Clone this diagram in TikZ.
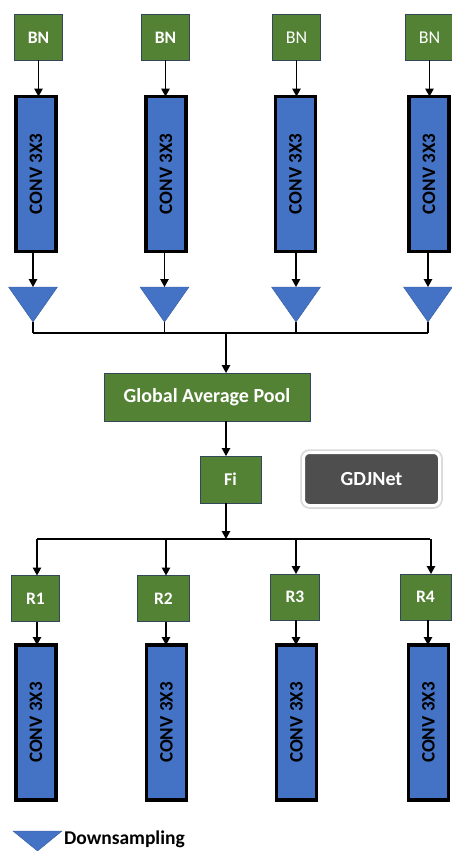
\documentclass[tikz,border=0pt]{standalone}
\usepackage{fontspec}
\setmainfont{Carlito}
\usetikzlibrary{arrows.meta}
\definecolor{gbox}{HTML}{548235}
\definecolor{bbox}{HTML}{4472C4}
\definecolor{gline}{HTML}{33465A}
\definecolor{dgray}{HTML}{4E4E4E}
\begin{document}
\begin{tikzpicture}[x=1pt,y=-1pt,
 every node/.style={inner sep=0pt, outer sep=0pt},
 gnode/.style={draw=gline, line width=0.8pt, fill=gbox, text=white, font=\fontsize{17.5}{17.5}\selectfont\bfseries, minimum height=46pt, minimum width=48pt},
 gnodelight/.style={gnode, font=\fontsize{18}{18}\selectfont},
 convbox/.style={draw=black, line width=3.5pt, fill=bbox, minimum width=40pt, minimum height=155pt},
 convlabel/.style={rotate=90, font=\fontsize{19}{19}\selectfont\bfseries},
 arr/.style={-{Triangle[length=8pt,width=8.5pt]}, line width=1.3pt},
 ln/.style={line width=1.3pt},
 tri/.style={fill=bbox, draw=bbox!80!black, line width=0.4pt}]
\useasboundingbox (0,0) rectangle (451,851);
% ---------- top row ----------
\node[gnode] (bn1) at (38.5,37.5) {BN};
\node[gnode] (bn2) at (165.5,37.5) {BN};
\node[gnodelight] (bn3) at (296.5,37.5) {BN};
\node[gnodelight] (bn4) at (429.5,37.5) {BN};
\node[convbox] (c1) at (36,174) {};
\node[convbox] (c2) at (166,174) {};
\node[convbox] (c3) at (295.5,174) {};
\node[convbox] (c4) at (429,174) {};
\node[convlabel] (cl1) at (c1) {CONV 3X3};
\node[convlabel] (cl2) at (c2) {CONV 3X3};
\node[convlabel] (cl3) at (c3) {CONV 3X3};
\node[convlabel] (cl4) at (c4) {CONV 3X3};
\draw[arr] (bn1.south) -- (bn1.south |- c1.north);
\draw[arr] (bn2.south) -- (bn2.south |- c2.north);
\draw[arr] (bn3.south) -- (bn3.south |- c3.north);
\draw[arr] (bn4.south) -- (bn4.south |- c4.north);
% triangles
\path[tri] (8.5,287) -- (57.5,287) -- (33,322) -- cycle;
\path[tri] (140,287) -- (189,287) -- (164.5,322) -- cycle;
\path[tri] (271.5,287) -- (320.5,287) -- (296,322) -- cycle;
\path[tri] (403.5,287) -- (452.5,287) -- (428,322) -- cycle;
\coordinate (t1) at (33,287);   \coordinate (a1) at (33,322);
\coordinate (t2) at (164.5,287);\coordinate (a2) at (164.5,322);
\coordinate (t3) at (296,287);  \coordinate (a3) at (296,322);
\coordinate (t4) at (428,287);  \coordinate (a4) at (428,322);
\draw[arr] (t1 |- c1.south) -- (t1);
\draw[arr] (t2 |- c2.south) -- (t2);
\draw[arr] (t3 |- c3.south) -- (t3);
\draw[arr] (t4 |- c4.south) -- (t4);
\coordinate (busL) at (33,333);
\coordinate (busR) at (428,333);
\coordinate (busM) at (226,333);
\draw[ln] (a1) -- (a1 |- busL);
\draw[ln] (a2) -- (a2 |- busL);
\draw[ln] (a3) -- (a3 |- busL);
\draw[ln] (a4) -- (a4 |- busL);
\draw[ln] (busL) -- (busR);
% ---------- middle ----------
\node[gnode, minimum width=206pt, minimum height=48pt, font=\fontsize{20}{20}\selectfont\bfseries] (gap) at (207,397) {Global Average Pool};
\node[gnode, minimum width=61pt, minimum height=47pt, font=\fontsize{18}{18}\selectfont\bfseries] (fi) at (230.5,479.5) {Fi};
\draw[arr] (busM) -- (busM |- gap.north);
\draw[arr] (busM |- gap.south) -- (busM |- fi.north);
\coordinate (bus2M) at (226,539);
\coordinate (bus2L) at (37,539);
\coordinate (bus2R) at (430,539);
\draw[arr] (busM |- fi.south) -- (bus2M);
\draw[ln] (bus2L) -- (bus2R);
\node[rounded corners=6pt, fill=dgray, draw=white, line width=3pt,
      preaction={draw=black!15, line width=6.5pt},
      minimum width=136pt, minimum height=53pt, text=white,
      font=\fontsize{20}{20}\selectfont\bfseries] (gdj) at (371.5,479) {GDJNet};
% ---------- bottom row ----------
\node[gnode] (r1) at (35.5,598.5) {R1};
\node[gnode, minimum width=52pt] (r2) at (163.5,598.5) {R2};
\node[gnode, minimum width=49pt] (r3) at (295,597) {R3};
\node[gnode, minimum width=51pt] (r4) at (425.5,597) {R4};
\coordinate (d1) at (37,539);
\coordinate (d2) at (166,539);
\coordinate (d3) at (296,539);
\coordinate (d4) at (431,539);
\draw[arr] (d1) -- (d1 |- r1.north);
\draw[arr] (d2) -- (d2 |- r2.north);
\draw[arr] (d3) -- (d3 |- r3.north);
\draw[arr] (d4) -- (d4 |- r4.north);
\node[convbox] (e1) at (36,722.5) {};
\node[convbox] (e2) at (166.5,722.5) {};
\node[convbox] (e3) at (296.5,722.5) {};
\node[convbox] (e4) at (428.5,722.5) {};
\node[convlabel] (el1) at (e1) {CONV 3X3};
\node[convlabel] (el2) at (e2) {CONV 3X3};
\node[convlabel] (el3) at (e3) {CONV 3X3};
\node[convlabel] (el4) at (e4) {CONV 3X3};
\draw[arr] (d1 |- r1.south) -- (d1 |- e1.north);
\draw[arr] (d2 |- r2.south) -- (d2 |- e2.north);
\draw[arr] (d3 |- r3.south) -- (d3 |- e3.north);
\draw[arr] (428,0 |- r4.south) -- (428,0 |- e4.north);
% ---------- legend ----------
\path[tri] (13,831) -- (62,831) -- (37.5,851) -- cycle;
\node[anchor=west, font=\fontsize{19.5}{19.5}\selectfont\bfseries] (leg) at (64,839) {Downsampling};
\end{tikzpicture}
\end{document}
